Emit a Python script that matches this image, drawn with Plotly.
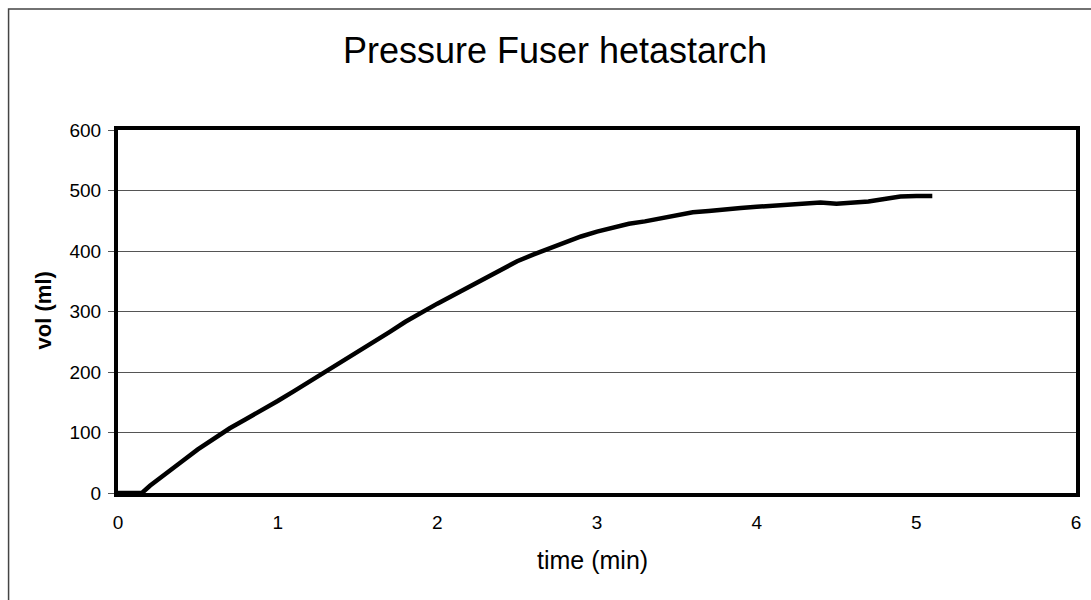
import plotly.graph_objects as go

# Infusion volume delivered by the pressure fuser (hetastarch)
time_min = [0.0, 0.1, 0.15, 0.2, 0.3, 0.4, 0.5, 0.6, 0.7, 0.8, 0.9,
            1.0, 1.1, 1.2, 1.3, 1.4, 1.5, 1.6, 1.7, 1.8, 1.9,
            2.0, 2.1, 2.2, 2.3, 2.4, 2.5, 2.6, 2.7, 2.8, 2.9,
            3.0, 3.1, 3.2, 3.3, 3.4, 3.5, 3.6, 3.7, 3.8, 3.9,
            4.0, 4.1, 4.2, 4.3, 4.4, 4.5, 4.6, 4.7, 4.8, 4.9,
            5.0, 5.1]
volume_ml = [0, 0, 0, 12, 33, 52, 72, 90, 107, 122, 136,
             152, 168, 184, 200, 216, 233, 249, 266, 283, 299,
             313, 327, 341, 355, 370, 383, 394, 404, 415, 424,
             432, 439, 445, 449, 454, 460, 464, 466, 469, 471,
             473, 475, 477, 479, 480, 478, 480, 482, 486, 490,
             491, 491]

x_ticks = [0, 1, 2, 3, 4, 5, 6]
y_ticks = [0, 100, 200, 300, 400, 500, 600]

FONT = "Arial, Liberation Sans, sans-serif"

fig = go.Figure()
fig.add_trace(go.Scatter(
    x=time_min, y=volume_ml, mode="lines",
    line=dict(color="black", width=4.5),
    showlegend=False,
))

W, H = 1091, 600
L, R, T, B = 118, 10, 130, 107
pw, ph = W - L - R, H - T - B


def px_x(px):
    return (px - L) / pw


def px_y(py):
    return (H - B - py) / ph


fig.update_layout(
    width=W, height=H,
    margin=dict(l=L, r=R, t=T, b=B, pad=0),
    paper_bgcolor="white", plot_bgcolor="white",
    font=dict(family=FONT, color="black"),
    title=dict(
        text="Pressure Fuser hetastarch",
        font=dict(size=36, family=FONT, color="black"),
        x=555 / W, xref="container", xanchor="center",
        y=(H - 50) / H, yref="container", yanchor="middle",
    ),
    xaxis=dict(
        range=[0, 6], tickvals=x_ticks, ticktext=[str(v) for v in x_ticks],
        showgrid=False, zeroline=False,
        showline=True, linecolor="black", linewidth=4, mirror=True,
        ticks="", ticklabelstandoff=9,
        tickfont=dict(size=19, family=FONT, color="black"),
    ),
    yaxis=dict(
        range=[0, 600], tickvals=y_ticks, ticktext=[str(v) for v in y_ticks],
        showgrid=True, gridcolor="#555555", gridwidth=1, zeroline=False,
        showline=True, linecolor="black", linewidth=4, mirror=True,
        ticks="outside", ticklen=6, tickcolor="#555555", tickwidth=1,
        ticklabelstandoff=3,
        tickfont=dict(size=19, family=FONT, color="black"),
    ),
    annotations=[
        dict(text="time (min)", xref="paper", yref="paper",
             x=px_x(595), y=px_y(560), xanchor="center", yanchor="middle",
             showarrow=False, font=dict(size=25, family=FONT, color="black")),
        dict(text="<b>vol (ml)</b>", xref="paper", yref="paper",
             x=px_x(43), y=px_y(310), xanchor="center", yanchor="middle",
             textangle=-90, showarrow=False,
             font=dict(size=22, family=FONT, color="black")),
    ],
    shapes=[
        # outer chart frame (right and bottom edges run past the page)
        dict(type="rect", xref="paper", yref="paper",
             x0=px_x(8), x1=px_x(1200), y0=px_y(700), y1=px_y(9),
             line=dict(color="#444444", width=1.5), fillcolor="rgba(0,0,0,0)",
             layer="below"),
    ],
)

fig.write_html("out.html")
